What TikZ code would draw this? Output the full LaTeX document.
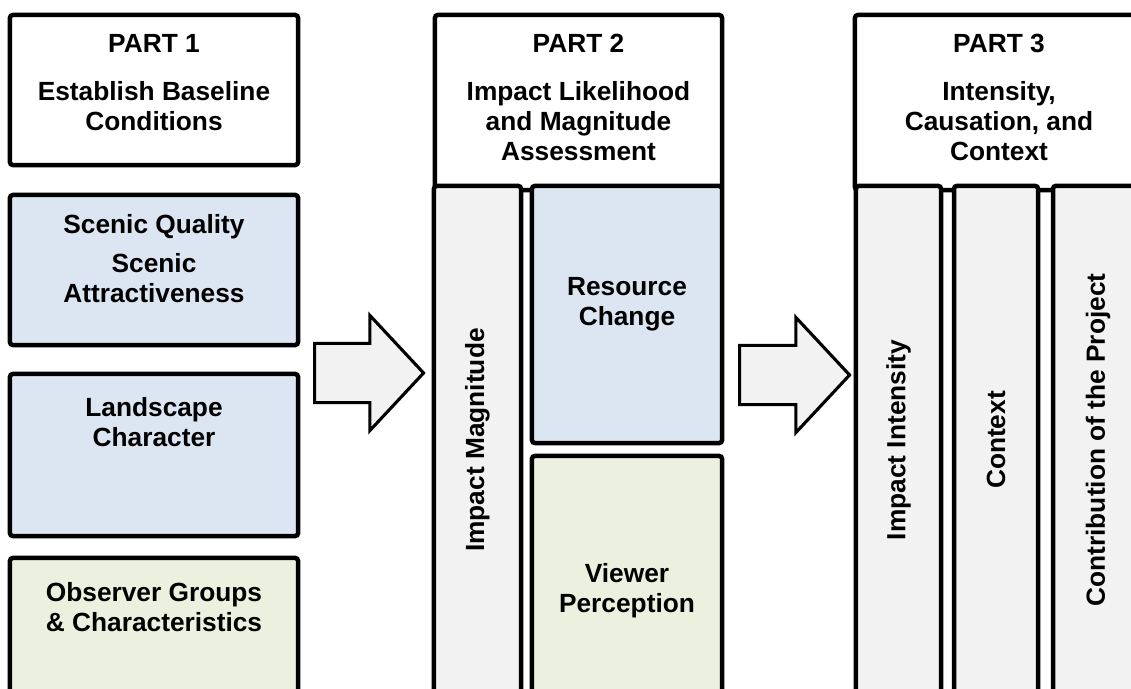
\documentclass[tikz,border=0pt]{standalone}
\usepackage{fontspec}
\setmainfont{Liberation Sans}
\usetikzlibrary{shapes.arrows}

\definecolor{boxblue}{HTML}{DCE6F2}
\definecolor{boxgreen}{HTML}{EBF1DE}
\definecolor{boxgray}{HTML}{F2F2F2}

\tikzset{
  panel/.style={draw=black, line width=3.2pt, rounded corners=2pt, inner sep=0pt, outer sep=0pt},
  lbl/.style={font=\bfseries\fontsize{18.7}{21.3}\selectfont, align=center, inner sep=0pt, anchor=north},
  vlbl/.style={font=\bfseries\fontsize{18.7}{21.3}\selectfont, rotate=90, inner sep=0pt},
  bigarrow/.style={single arrow, draw=black, line width=2.2pt, fill=boxgray, anchor=tail,
    inner xsep=0pt, inner ysep=0.7cm, single arrow head extend=0.7cm, single arrow tip angle=94}
}

\begin{document}
\begin{tikzpicture}[x=0.025cm, y=-0.025cm]
\useasboundingbox (0,0) rectangle (1131,689);
\clip (0,0) rectangle (1131,689);

% part 1
\node [panel, fill=white, minimum width=7.2cm, minimum height=3.75cm] (p1) at (154,90) {};
\node [panel, fill=boxblue, minimum width=7.2cm, minimum height=3.75cm] (scenic) at (154,270) {};
\node [panel, fill=boxblue, minimum width=7.2cm, minimum height=4.05cm] (landscape) at (154,455) {};
\node [panel, fill=boxgreen, minimum width=7.2cm, minimum height=4.05cm] (observer) at (154,639) {};
\node [lbl] (p1title) at (154,34) {PART 1};
\node [lbl] (p1sub) at (154,81) {Establish Baseline\\Conditions};
\node [lbl] (scenicq) at (154,214) {Scenic Quality};
\node [lbl] (scenica) at (154,253) {Scenic\\Attractiveness};
\node [lbl] (landscapet) at (154,397) {Landscape\\Character};
\node [lbl] (observert) at (154,582) {Observer Groups\\\& Characteristics};

% part 2
\node [panel, fill=white, minimum width=7.175cm, minimum height=4.375cm] (p2) at (578.5,102.5) {};
\node [panel, fill=boxgray, minimum width=2.175cm, minimum height=13.35cm] (magnitude) at (477.5,453) {};
\node [panel, fill=boxblue, minimum width=4.75cm, minimum height=6.425cm] (resource) at (627,314.5) {};
\node [panel, fill=boxgreen, minimum width=4.75cm, minimum height=6.6cm] (viewer) at (627,588) {};
\node [lbl] (p2title) at (578.5,34) {PART 2};
\node [lbl] (p2sub) at (578.5,81) {Impact Likelihood\\and Magnitude\\Assessment};
\node [vlbl] (magnitudet) at (477.5,440) {Impact Magnitude};
\node [lbl] (resourcet) at (627,277) {Resource\\Change};
\node [lbl] (viewert) at (627,563) {Viewer\\Perception};

% part 3
\node [panel, fill=white, minimum width=7.2cm, minimum height=4.375cm] (p3) at (999,102.5) {};
\foreach \name/\cx/\w/\txt in {intensity/898.5/2.125cm/Impact Intensity,
    context/996/2.1cm/Context, contribution/1098/2.25cm/Contribution of the Project}
{
  \node [panel, fill=boxgray, minimum width=\w, minimum height=13.35cm] (\name) at (\cx,453) {};
  \node [vlbl] (\name t) at (\cx,440) {\txt};
}
\node [lbl] (p3title) at (999,34) {PART 3};
\node [lbl] (p3sub) at (999,81) {Intensity,\\Causation, and\\Context};

% arrows between the parts
\node [bigarrow, minimum height=2.725cm] (arrowA) at (313,373) {};
\node [bigarrow, minimum height=2.75cm] (arrowB) at (738,375) {};
\end{tikzpicture}
\end{document}
